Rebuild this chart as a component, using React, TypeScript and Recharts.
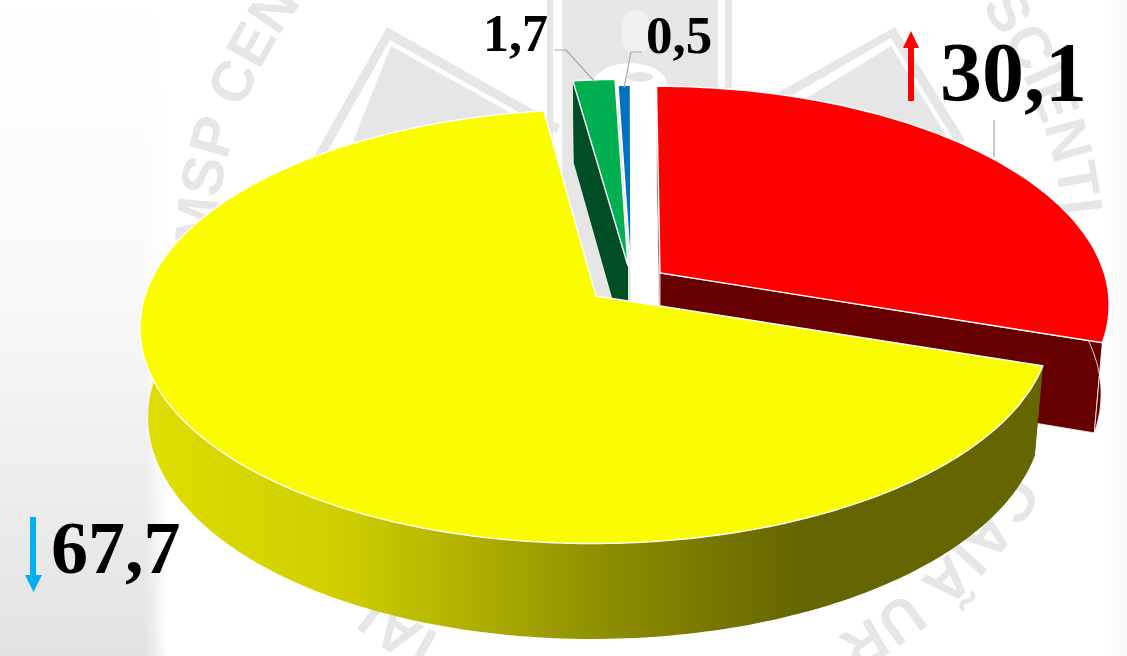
import { Pie, PieChart } from "recharts";

// clockwise from the small green slice, so the yellow one paints last
const names = ["green", "blue", "red", "yellow"];
const values = [1.7, 0.5, 30.1, 67.7];
const topColors = ["#00b050", "#0070c0", "#ff0000", "#fbfc00"];
const wallColors = ["#004d26", "none", "#660000", "url(#yellowWall)"];

const data = names.map((name, i) => ({ name, value: values[i], fill: topColors[i] }));

const WIDTH = 1127;
const HEIGHT = 656;
const RADIUS = 451;
const SQUASH = 0.472; // vertical radius / horizontal radius
const PERSPECTIVE = 0.14;

// how far each slice is pulled out of the pie, and the small lean of its edge
const explode: any = {
  green: { dx: 32, dy: -30, lean: 0, sx: 1 },
  blue: { dx: 35, dy: -24, lean: 0, sx: 1 },
  red: { dx: 64, dy: -23, lean: 0.016, sx: 0.985 },
  yellow: { dx: 0, dy: 0, lean: -0.016, sx: 1 },
};

const project = (clock: number, r: number, lean: number, sx: number) => {
  const t = (clock * Math.PI) / 180;
  const u = r * Math.sin(t);
  const v = r * Math.cos(t);
  const w = 1 + PERSPECTIVE * v;
  const y = (-RADIUS * SQUASH * v) / w;
  return { x: (sx * RADIUS * u) / w + lean * y, y };
};

const lower = (p: any) => ({ x: p.x * 0.982, y: p.y * 1.03 + 88 });
const toPath = (pts: any[]) =>
  "M" + pts.map((p) => `${p.x.toFixed(1)},${p.y.toFixed(1)}`).join("L") + "Z";

function Slice3D(props: any) {
  const { cx, cy, startAngle, endAngle, fill, name, index } = props;
  const { dx, dy, lean, sx } = explode[name];
  const from = 90 - startAngle;
  const to = 90 - endAngle;
  const rim = [];
  const steps = Math.max(2, Math.ceil(to - from));
  for (let i = 0; i <= steps; i++) {
    rim.push(project(from + ((to - from) * i) / steps, 1, lean, sx));
  }
  const apex = { x: 0, y: 0 };
  const wall = wallColors[index];
  const rimLow = rim.map(lower);
  return (
    <g transform={`translate(${cx + dx},${cy + dy})`}>
      {name === "yellow" && (
        <defs>
          <linearGradient id="yellowWall" gradientUnits="userSpaceOnUse" x1={-456} x2={200} y1={0} y2={0}>
            <stop offset="0" stopColor="#dede00" />
            <stop offset="0.3" stopColor="#cfcf00" />
            <stop offset="0.45" stopColor="#b8b800" />
            <stop offset="0.72" stopColor="#8c8c00" />
            <stop offset="1" stopColor="#666600" />
          </linearGradient>
        </defs>
      )}
      {wall !== "none" && (
        <g fill={wall} stroke={name === "red" ? "#ffffff" : "none"} strokeWidth={0.8}>
          <path d={toPath([apex, rim[0], rimLow[0], lower(apex)])} />
          <path d={toPath([apex, rim[steps], rimLow[steps], lower(apex)])} />
          <path d={toPath([...rim, ...rimLow.slice().reverse()])} />
        </g>
      )}
      <path d={toPath([apex, ...rim])} fill={fill} stroke="#ffffff" strokeWidth={1.4} />
    </g>
  );
}

function SliceLabel(props: any) {
  const name = data[props.index].name;
  const text = String(data[props.index].value).replace(".", ",");
  const base = { fontFamily: "Liberation Serif", fontWeight: 700, fill: "#000000" };
  if (name === "red") {
    return (
      <g>
        <path d="M994,120V157" stroke="#a6a6a6" strokeWidth={1.2} fill="none" />
        <path d="M908,101V48H903L911,31L919,48H914V101Z" fill="#ff0000" />
        <text x={940} y={101} fontSize={84} {...base}>{text}</text>
      </g>
    );
  }
  if (name === "yellow") {
    return (
      <g>
        <path d="M30,517V575H25L33.500,592L42,575H36V517Z" fill="#00b0f0" />
        <text x={51} y={573} fontSize={74} {...base}>{text}</text>
      </g>
    );
  }
  if (name === "green") {
    return (
      <g>
        <path d="M554,50H566L595,82" stroke="#a6a6a6" strokeWidth={1.2} fill="none" />
        <text x={483} y={51} fontSize={52} {...base}>{text}</text>
      </g>
    );
  }
  return (
    <g>
      <path d="M642,52H631L624,88" stroke="#a6a6a6" strokeWidth={1.2} fill="none" />
      <text x={646} y={53} fontSize={53} {...base}>{text}</text>
    </g>
  );
}

function Backdrop() {
  const ring = "M215,260A425,425 0 1 1 1065,260A425,425 0 1 1 215,260";
  const letters = { fontFamily: "Liberation Sans", fontWeight: 700, fontSize: 58, fill: "#e6e6e6" };
  return (
    <svg width={WIDTH} height={HEIGHT} style={{ position: "absolute", left: 0, top: 0 }}>
      <defs>
        <path id="ring" d={ring} />
      </defs>
      <rect x={547} y={0} width={185} height={330} fill="#e6e6e6" />
      <rect x={553} y={0} width={9} height={330} fill="#ffffff" />
      <rect x={718} y={0} width={7} height={330} fill="#ffffff" />
      <rect x={622} y={10} width={28} height={44} rx={14} fill="#f0f0f0" />
      <ellipse cx={630} cy={85} rx={37} ry={22} fill="#ffffff" />
      <ellipse cx={640} cy={77} rx={13} ry={5} fill="#e6e6e6" />
      <rect x={631} y={88} width={28} height={230} fill="#ffffff" />
      <path d="M387,27L560,125L556,133L390,40L290,218L282,213Z" fill="#e6e6e6" />
      <path d="M391,46L545,132V300H290Z" fill="#e6e6e6" />
      <path d="M770,97L895,27L965,140L957,145L891,38L775,105Z" fill="#e6e6e6" />
      <path d="M800,102L891,46L955,150V300H800Z" fill="#e6e6e6" />
      <text {...letters}>
        <textPath href="#ring" startOffset="0.500%">MSP CEN</textPath>
      </text>
      <text {...letters}>
        <textPath href="#ring" startOffset="39.800%">SCIENTÍ</textPath>
      </text>
      <text {...letters}>
        <textPath href="#ring" startOffset="58.300%">CAIÃ UR</textPath>
      </text>
      <text {...letters}>
        <textPath href="#ring" startOffset="82.800%">IAI</textPath>
      </text>
    </svg>
  );
}

function App() {
  return (
    <div style={{ position: "absolute", left: 0, top: 0, width: WIDTH, height: HEIGHT, overflow: "hidden", background: "#ffffff" }}>
      <Backdrop />
      <div
        style={{
          position: "absolute",
          left: 0,
          top: 0,
          width: 168,
          height: HEIGHT,
          background: "linear-gradient(180deg, #ffffff 0%, #f9f9f9 45%, #e2e2e2 100%)",
          maskImage: "linear-gradient(90deg, #000 145px, transparent 168px)",
          WebkitMaskImage: "linear-gradient(90deg, #000 145px, transparent 168px)",
        }}
      />
      <div
        style={{
          position: "absolute",
          right: 0,
          top: 0,
          width: 22,
          height: HEIGHT,
          background: "linear-gradient(90deg, #ffffff 0%, #f7f7f7 100%)",
        }}
      />
      <div style={{ position: "absolute", left: 0, top: 0 }}>
        <PieChart width={WIDTH} height={HEIGHT} margin={{ top: 0, right: 0, bottom: 0, left: 0 }}>
          <Pie
            data={data}
            dataKey="value"
            nameKey="name"
            cx={596}
            cy={296}
            outerRadius={RADIUS}
            startAngle={98}
            endAngle={-262}
            stroke="none"
            shape={Slice3D}
            label={SliceLabel}
            labelLine={false}
            isAnimationActive={false}
          />
        </PieChart>
      </div>
    </div>
  );
}

export default App;
